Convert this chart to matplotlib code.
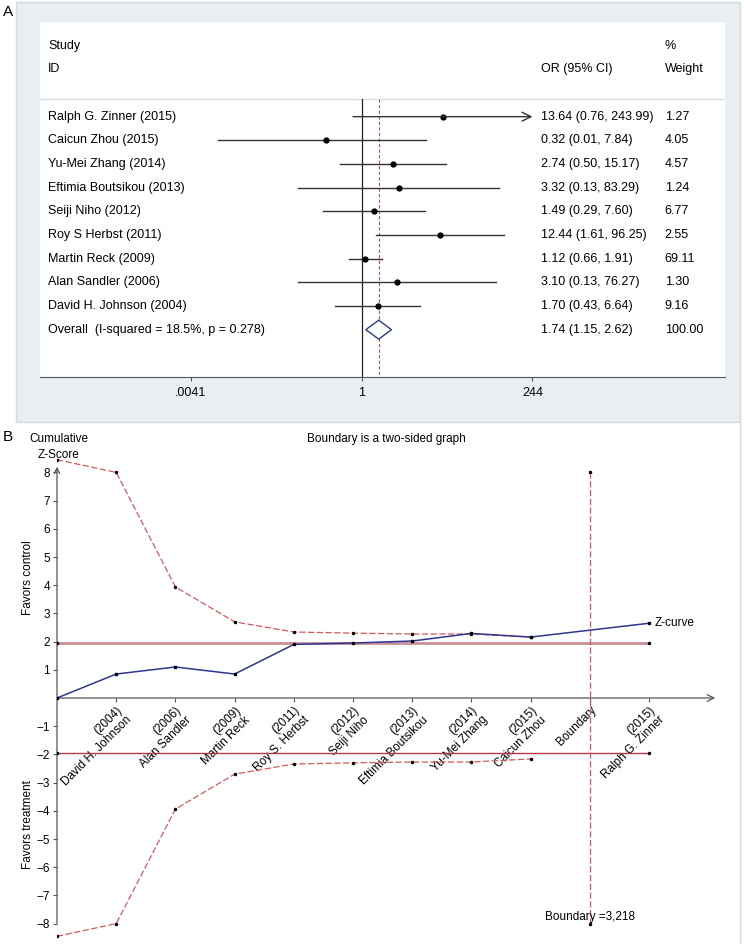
import numpy as np
import matplotlib
matplotlib.use('Agg')
import matplotlib.pyplot as plt
from matplotlib.patches import Rectangle, Polygon
from matplotlib.lines import Line2D

plt.rcParams['font.family'] = ['Liberation Sans', 'DejaVu Sans']

# -----------------------
# Panel A data (forest plot)
# -----------------------
studies = ['Ralph G. Zinner (2015)', 'Caicun Zhou (2015)', 'Yu-Mei Zhang (2014)',
           'Eftimia Boutsikou (2013)', 'Seiji Niho (2012)', 'Roy S Herbst (2011)',
           'Martin Reck (2009)', 'Alan Sandler (2006)', 'David H. Johnson (2004)']
or_est = [13.64, 0.32, 2.74, 3.32, 1.49, 12.44, 1.12, 3.10, 1.70]
ci_lo = [0.76, 0.01, 0.50, 0.13, 0.29, 1.61, 0.66, 0.13, 0.43]
ci_hi = [243.99, 7.84, 15.17, 83.29, 7.60, 96.25, 1.91, 76.27, 6.64]
weights = [1.27, 4.05, 4.57, 1.24, 6.77, 2.55, 69.11, 1.30, 9.16]
overall_label = 'Overall  (I-squared = 18.5%, p = 0.278)'
overall_or, overall_lo, overall_hi, overall_w = 1.74, 1.15, 2.62, 100.00
forest_ticks = [0.0041, 1, 244]
forest_ticklabels = ['.0041', '1', '244']

# -----------------------
# Panel B data (trial sequential analysis)
# -----------------------
tsa_labels = ['(2004)\nDavid H. Johnson', '(2006)\nAlan Sandler', '(2009)\nMartin Reck',
              '(2011)\nRoy S. Herbst', '(2012)\nSeiji Niho', '(2013)\nEftimia Boutsikou',
              '(2014)\nYu-Mei Zhang', '(2015)\nCaicun Zhou', 'Boundary',
              '(2015)\nRalph G. Zinner']
bound_x = [0, 1, 2, 3, 4, 5, 6, 7, 8]
bound_upper = [8.45, 8.0, 3.94, 2.70, 2.34, 2.30, 2.27, 2.27, 2.16]
bound_lower = [-8.45, -8.0, -3.94, -2.70, -2.34, -2.30, -2.27, -2.27, -2.16]
z_x = [0, 1, 2, 3, 4, 5, 6, 7, 8, 10]
z_curve = [0, 0.85, 1.10, 0.85, 1.90, 1.95, 2.02, 2.29, 2.16, 2.65]
z_crit = 1.96
info_x = 9
info_top, info_bottom = 8.0, -8.0
y_ticks = [-8, -7, -6, -5, -4, -3, -2, -1, 1, 2, 3, 4, 5, 6, 7, 8]

W, H = 744, 944
fig = plt.figure(figsize=(W / 100, H / 100), dpi=100)


def fx(px):
    return px / W


def fy(py):
    return 1 - py / H


fs = 9.0

# ---------- Panel A ----------
bg = Rectangle((fx(16), fy(422)), fx(740) - fx(16), fy(2) - fy(422),
               transform=fig.transFigure, facecolor='#e8eef1', edgecolor='#d3dce1',
               linewidth=1, zorder=-1)
fig.add_artist(bg)

ax = fig.add_axes([fx(40), fy(377), (725 - 40) / W, (377 - 22) / H])
ax.set_facecolor('white')
ax.set_xscale('log')
scale = 31.1  # px per ln unit
ax.set_xlim(np.exp((40 - 361.5) / scale), np.exp((725 - 361.5) / scale))
ax.set_ylim(11, -4)
for s in ['top', 'left', 'right']:
    ax.spines[s].set_visible(False)
ax.spines['bottom'].set_color('#555555')
ax.set_yticks([])
ax.set_xticks(forest_ticks)
ax.set_xticklabels(forest_ticklabels, fontsize=fs)
ax.xaxis.set_minor_locator(matplotlib.ticker.NullLocator())
ax.tick_params(axis='x', direction='out', length=3, pad=4, color='#555555')

tr = ax.get_yaxis_transform()  # x in axes fraction, y in data
col_study, col_or, col_w = 0.0117, 0.731, 0.912
ax.text(col_study, -3, 'Study', transform=tr, fontsize=fs, va='center')
ax.text(col_study, -2, 'ID', transform=tr, fontsize=fs, va='center')
ax.text(col_or, -2, 'OR (95% CI)', transform=tr, fontsize=fs, va='center')
ax.text(col_w, -3, '%', transform=tr, fontsize=fs, va='center')
ax.text(col_w, -2, 'Weight', transform=tr, fontsize=fs, va='center')
ax.axhline(-0.75, color='#d8dde0', lw=1)

ax.plot([1, 1], [-0.75, 11], color='#222222', lw=0.9)
ax.plot([overall_or, overall_or], [-0.75, 11], color='#b25555', lw=0.8,
        linestyle=(0, (3, 2)))

xmax = forest_ticks[-1]
for i, (name, est, lo, hi, w) in enumerate(zip(studies, or_est, ci_lo, ci_hi, weights)):
    if hi >= xmax * 0.99:
        ax.annotate('', xy=(xmax, i), xytext=(lo, i),
                    arrowprops=dict(arrowstyle='->', lw=1, color='#333333',
                                    mutation_scale=16, shrinkA=0, shrinkB=0))
    else:
        ax.plot([lo, hi], [i, i], color='#333333', lw=1)
    ax.plot(est, i, 'o', color='black', markersize=3.5)
    ax.text(col_study, i, name, transform=tr, fontsize=fs, va='center')
    ax.text(col_or, i, f'{est:.2f} ({lo:.2f}, {hi:.2f})', transform=tr,
            fontsize=fs, va='center')
    ax.text(col_w, i, f'{w:.2f}', transform=tr, fontsize=fs, va='center')

yo = len(studies)
diamond = Polygon([(overall_lo, yo), (overall_or, yo - 0.4), (overall_hi, yo),
                   (overall_or, yo + 0.4)], closed=True, facecolor='white',
                  edgecolor='#2e3a87', lw=1, zorder=3)
ax.add_patch(diamond)
ax.text(col_study, yo, overall_label, transform=tr, fontsize=fs, va='center')
ax.text(col_or, yo, f'{overall_or:.2f} ({overall_lo:.2f}, {overall_hi:.2f})',
        transform=tr, fontsize=fs, va='center')
ax.text(col_w, yo, f'{overall_w:.2f}', transform=tr, fontsize=fs, va='center')

fig.text(fx(3), fy(12), 'A', fontsize=11, va='center', ha='left')

# ---------- Panel B ----------
fig.add_artist(Line2D([fx(740), fx(740)], [fy(422), fy(944)],
                      transform=fig.transFigure, color='#d3dce1', lw=1))

x_unit = 59.2
y_unit = 28.2
x0_px, y0_px = 57, 698
xlim = (0, 11.3)
ylim = (-8.6, 8.6)
bx = fig.add_axes([fx(x0_px), fy(y0_px - ylim[0] * y_unit),
                   xlim[1] * x_unit / W, (ylim[1] - ylim[0]) * y_unit / H])
bx.set_xlim(*xlim)
bx.set_ylim(*ylim)
bx.patch.set_alpha(0)
for s in ['top', 'right', 'left', 'bottom']:
    bx.spines[s].set_visible(False)
bx.spines['bottom'].set_position(('data', 0))

bfs = 8.5
bx.set_yticks(y_ticks)
bx.set_yticklabels([f'{t}'.replace('-', '\u2212') for t in y_ticks], fontsize=bfs)
bx.tick_params(axis='y', direction='out', length=3, pad=2, color='#555555')
bx.set_xticks(np.arange(1, len(tsa_labels) + 1))
bx.set_xticklabels(tsa_labels, rotation=45, ha='right', va='top',
                   rotation_mode='anchor', multialignment='right', fontsize=bfs)
bx.tick_params(axis='x', direction='out', length=3, pad=1.5, color='#555555')

# axes with arrows
bx.annotate('', xy=(11.12, 0), xytext=(0, 0),
            arrowprops=dict(arrowstyle='->', lw=0.9, color='#555555',
                            mutation_scale=12, shrinkA=0, shrinkB=0))
bx.annotate('', xy=(0, 8.2), xytext=(0, -8.0),
            arrowprops=dict(arrowstyle='->', lw=0.9, color='#555555',
                            mutation_scale=10, shrinkA=0, shrinkB=0))

# critical z lines
bx.plot([0, 10], [z_crit, z_crit], color='#c98f98', lw=2, zorder=2)
bx.plot([0, 10], [-z_crit, -z_crit], color='#b5364d', lw=1, zorder=2)
bx.plot([0, 10, 0, 10], [z_crit, z_crit, -z_crit, -z_crit], '.', color='black',
        markersize=3, zorder=4)

# monitoring boundaries
bx.plot(bound_x, bound_upper, color='#d4575c', lw=0.9, linestyle=(0, (5, 2)),
        marker='.', markersize=3, markerfacecolor='black', markeredgecolor='black',
        zorder=3)
bx.plot(bound_x, bound_lower, color='#d4575c', lw=0.9, linestyle=(0, (5, 2)),
        marker='.', markersize=3, markerfacecolor='black', markeredgecolor='black',
        zorder=3)
bx.plot([info_x, info_x], [info_top, info_bottom], color='#d4575c', lw=0.9,
        linestyle=(0, (5, 2)), marker='.', markersize=3, markerfacecolor='black',
        markeredgecolor='black', zorder=3)

# Z-curve
bx.plot(z_x, z_curve, color='#2f3590', lw=1.1, marker='s', markersize=2,
        markerfacecolor='black', markeredgecolor='black', zorder=5)
bx.annotate('Z-curve', xy=(z_x[-1], z_curve[-1]), xytext=(4, 0),
            textcoords='offset points', fontsize=bfs, va='center', ha='left')
bx.text(info_x, -7.77, 'Boundary =3,218', fontsize=bfs, ha='center', va='center')

fig.text(fx(3), fy(437), 'B', fontsize=11, va='center', ha='left')
fig.text(fx(59), fy(439), 'Cumulative', fontsize=bfs, ha='center', va='center')
fig.text(fx(59), fy(455), 'Z-Score', fontsize=bfs, ha='center', va='center')
fig.text(fx(386), fy(439), 'Boundary is a two-sided graph', fontsize=bfs,
         ha='center', va='center')
fig.text(fx(28), fy(578), 'Favors control', fontsize=bfs, ha='center',
         va='center', rotation=90)
fig.text(fx(28), fy(825), 'Favors treatment', fontsize=bfs, ha='center',
         va='center', rotation=90)

fig.savefig('out.png', dpi=100, facecolor='white')
